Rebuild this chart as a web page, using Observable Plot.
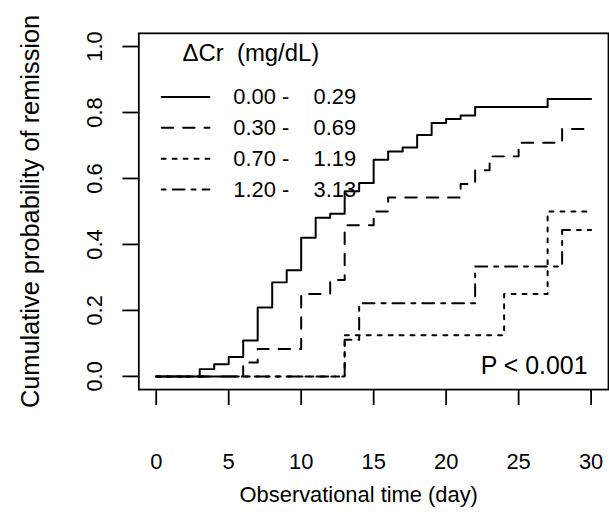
<!DOCTYPE html>
<html>
<head>
<meta charset="utf-8">
<script src="https://cdn.jsdelivr.net/npm/d3@7"></script>
<script src="https://cdn.jsdelivr.net/npm/@observablehq/plot@0.6"></script>
<style>
  html, body { margin: 0; padding: 0; background: #fff; overflow: hidden; }
  #chart svg text { white-space: pre; }
</style>
</head>
<body>
<div id="chart"></div>
<script>
// Cumulative probability of remission by ΔCr group (step curves)
const groups = ["0.00 - 0.29", "0.30 - 0.69", "0.70 - 1.19", "1.20 - 3.13"];

const daysA = [0, 3, 4, 5, 6, 7, 8, 9, 10, 11, 12, 13, 14, 15, 16, 17, 18, 19, 20, 21, 22, 27, 30];
const probA = [0, 0.022, 0.037, 0.059, 0.109, 0.209, 0.285, 0.322, 0.420, 0.481, 0.493, 0.561, 0.586, 0.657, 0.682, 0.694, 0.732, 0.768, 0.780, 0.791, 0.817, 0.841, 0.841];

const daysB = [0, 6, 7, 10, 12, 13, 15, 16, 21, 22, 23, 25, 28, 30];
const probB = [0, 0.042, 0.083, 0.250, 0.292, 0.458, 0.500, 0.542, 0.583, 0.625, 0.667, 0.708, 0.750, 0.750];

const daysC = [0, 13, 24, 27, 30];
const probC = [0, 0.125, 0.250, 0.500, 0.500];

const daysD = [0, 13, 14, 22, 28, 30];
const probD = [0, 0.111, 0.222, 0.333, 0.444, 0.444];

const xTicks = [0, 5, 10, 15, 20, 25, 30];
const yTicks = [0, 0.2, 0.4, 0.6, 0.8, 1.0];
const yTickLabels = ["0.0", "0.2", "0.4", "0.6", "0.8", "1.0"];

const xLabel = "Observational time (day)";
const yLabel = "Cumulative probability of remission";
const legendTitle = "ΔCr (mg/dL)";
const pLabel = "P < 0.001";

// line type for each group: solid, dashed, dotted, dot-dash
const dashes = [null, "11.5,10", "4,7", "4,7,12,7"];
const seriesDays = [daysA, daysB, daysC, daysD];
const seriesProb = [probA, probB, probC, probD];

const ink = "#000";
const lw = 2;
const font = 22;

// legend layout (in scale units, top-left inside the frame)
const legendRowY = i => 0.847 - 0.0935 * i;
const legendKeyX = [0.38, 3.67];
const legendTextX = 5.32;
// wider gap after the hyphen in the legend labels
const spaced = s => s.replace(" - ", " -    ");

const marks = [Plot.frame({stroke: ink, strokeWidth: 1.8})];

groups.forEach((g, k) => {
  const rows = seriesDays[k].map((d, i) => ({day: d, p: seriesProb[k][i]}));
  marks.push(Plot.line(rows, {
    x: "day", y: "p", curve: "step-after",
    stroke: ink, strokeWidth: lw,
    strokeDasharray: dashes[k] ?? undefined
  }));
  // legend key + label
  const y = legendRowY(k);
  marks.push(Plot.line(legendKeyX.map(x => ({x, y})), {
    x: "x", y: "y", stroke: ink, strokeWidth: lw,
    strokeDasharray: dashes[k] ?? undefined
  }));
  marks.push(Plot.text([g], {
    x: legendTextX, y, text: d => spaced(d), textAnchor: "start",
    fontSize: font, fill: ink
  }));
});

marks.push(
  Plot.text([legendTitle], {
    x: 1.82, y: 0.979, text: d => d.replace(" ", "  "), textAnchor: "start",
    fontSize: 24, fill: ink
  }),
  Plot.text([pLabel], {x: 29.75, y: 0.03, text: d => d, textAnchor: "end", fontSize: 25, fill: ink}),
  Plot.axisX(xTicks, {
    tickSize: 16, tickPadding: 48, strokeWidth: 1.8, stroke: ink,
    fontSize: font, fill: ink, tickFormat: d => String(d), label: null
  }),
  Plot.axisY(yTicks, {
    tickSize: 16, tickPadding: 21, tickRotate: -90, strokeWidth: 1.8, stroke: ink,
    fontSize: font, fill: ink, tickFormat: d => yTickLabels[yTicks.indexOf(d)], label: null
  }),
  Plot.text([xLabel], {
    frameAnchor: "bottom", dx: -15, dy: 106, lineAnchor: "middle", textAnchor: "middle",
    text: d => d, fontSize: font, fill: ink
  }),
  Plot.text([yLabel], {
    frameAnchor: "left", dx: -108, rotate: -90, lineAnchor: "middle", textAnchor: "middle",
    text: d => d, fontSize: 25.5, fill: ink
  })
);

const chart = Plot.plot({
  width: 612,
  height: 515,
  marginLeft: 139,
  marginRight: 1,
  marginTop: 33,
  marginBottom: 124,
  style: {fontFamily: "'Liberation Sans', Arial, sans-serif", background: "#fff", color: ink},
  x: {domain: [-1.2, 31.2]},
  y: {domain: [-0.04, 1.04]},
  marks
});
document.getElementById("chart").appendChild(chart);
</script>
</body>
</html>
